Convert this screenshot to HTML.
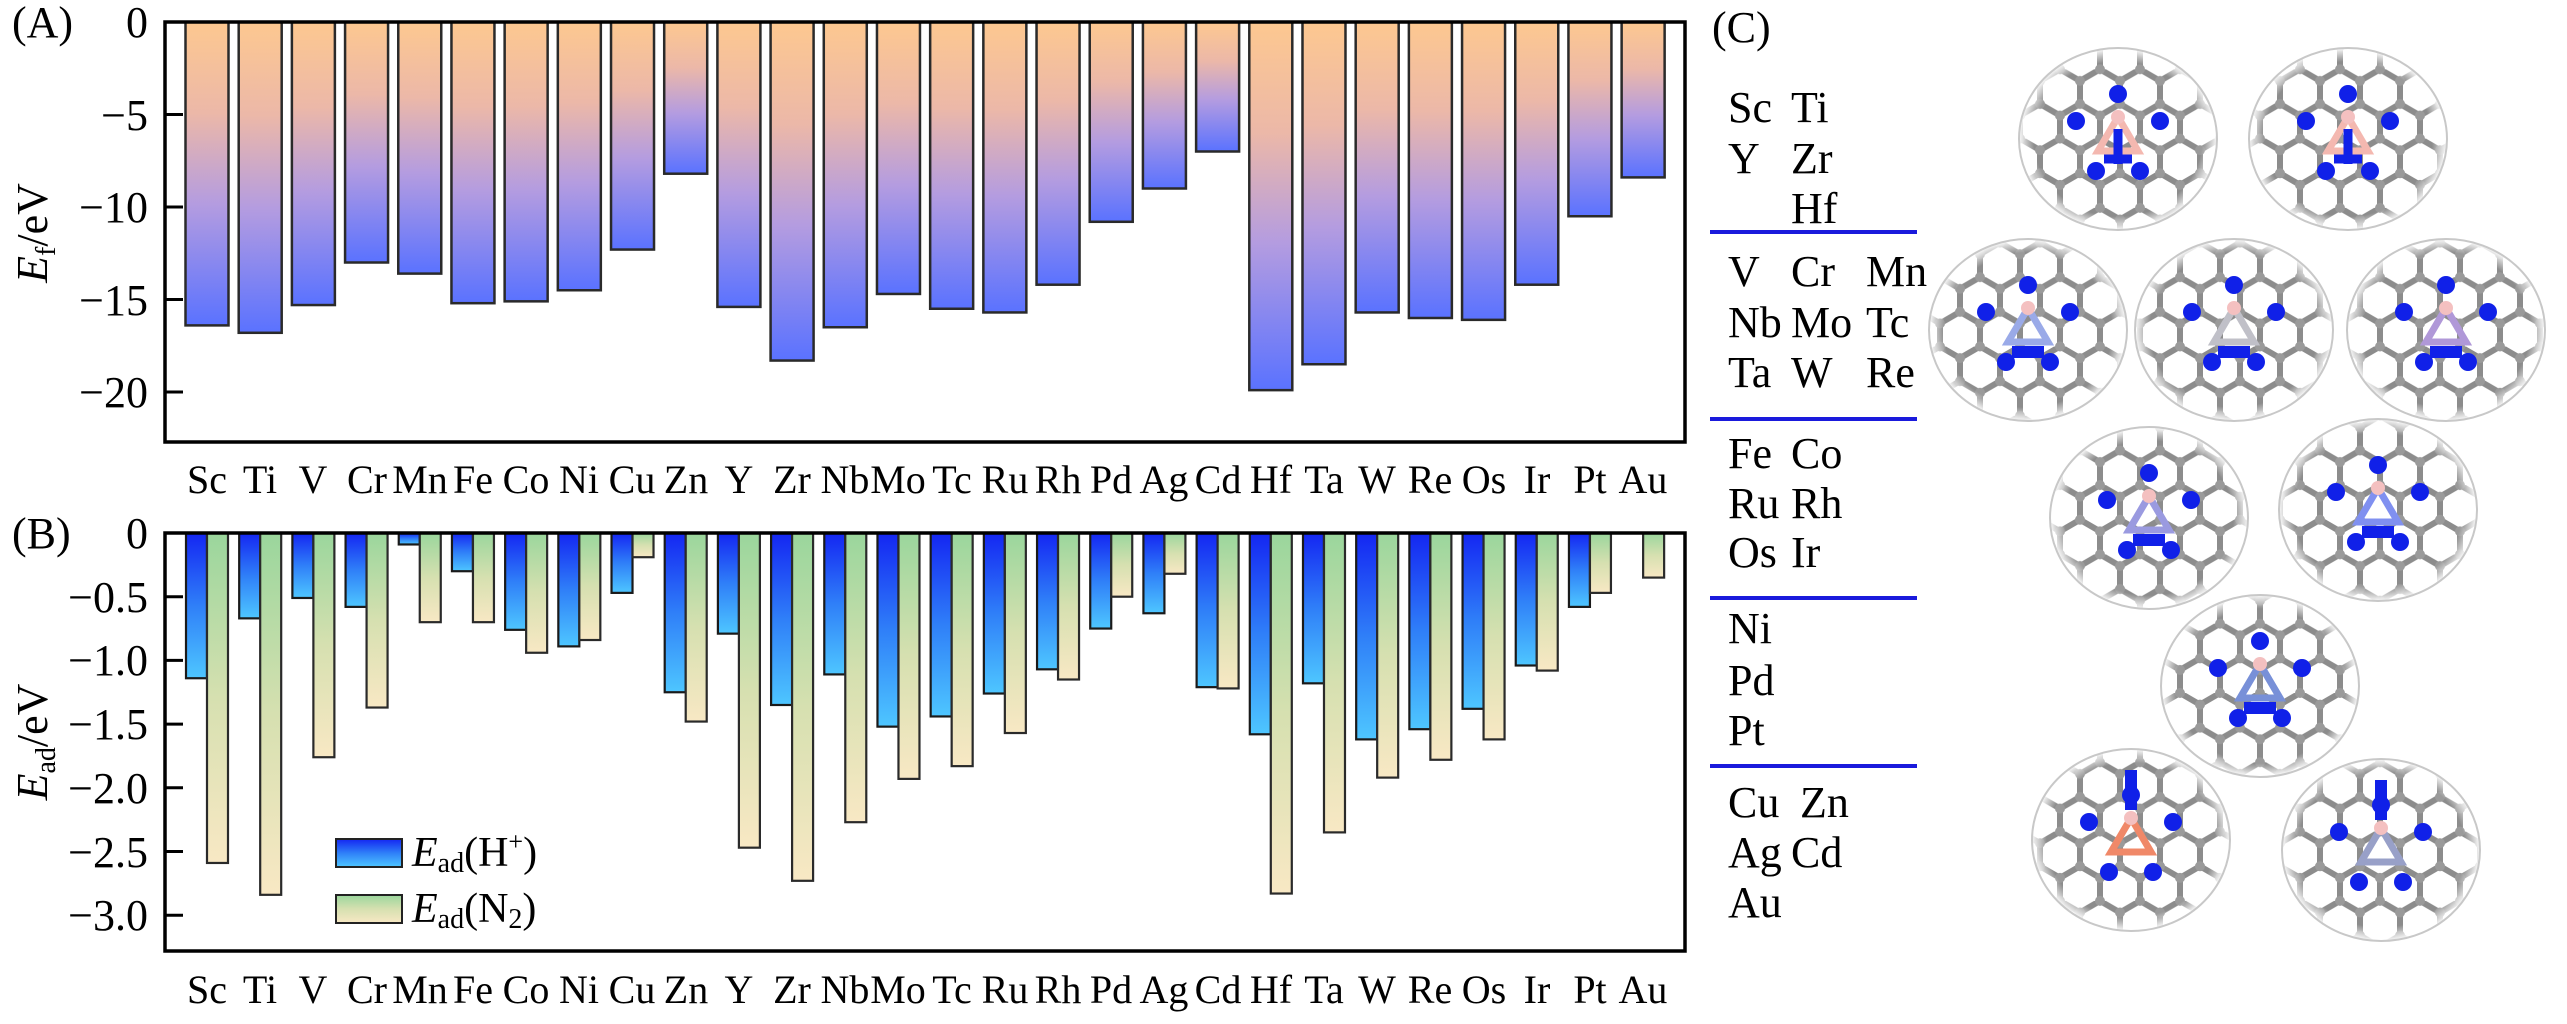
<!DOCTYPE html>
<html><head><meta charset="utf-8"><style>
html,body{margin:0;padding:0;background:#fff}
svg{display:block}
text{font-family:"Liberation Serif",serif;fill:#000}
</style></head><body>
<svg id="s" width="2567" height="1024" viewBox="0 0 2567 1024" xmlns="http://www.w3.org/2000/svg">
<defs>
<linearGradient id="gA" x1="0" y1="0" x2="0" y2="1"><stop offset="0" stop-color="#fdc890"/><stop offset="0.3" stop-color="#ecb8a8"/><stop offset="0.6" stop-color="#b49ce0"/><stop offset="1" stop-color="#5a72ff"/></linearGradient>
<linearGradient id="gH" x1="0" y1="0" x2="0" y2="1"><stop offset="0" stop-color="#1426f2"/><stop offset="0.5" stop-color="#2f7ff8"/><stop offset="1" stop-color="#4ec6ff"/></linearGradient>
<linearGradient id="gN" x1="0" y1="0" x2="0" y2="1"><stop offset="0" stop-color="#9ad69c"/><stop offset="0.5" stop-color="#d6e0b0"/><stop offset="1" stop-color="#f8e8c4"/></linearGradient>
<pattern id="hex" width="40" height="69.3" patternUnits="userSpaceOnUse">
<path d="M20 0L40 11.55M20 0L0 11.55M0 11.55V34.65M40 11.55V34.65M0 34.65L20 46.2M40 34.65L20 46.2M20 46.2V69.3" stroke="#8c8c8c" stroke-width="6" fill="none"/>
<g fill="#9a9a9a"><circle cx="20" cy="0" r="5"/><circle cx="0" cy="11.55" r="5"/><circle cx="40" cy="11.55" r="5"/><circle cx="0" cy="34.65" r="5"/><circle cx="40" cy="34.65" r="5"/><circle cx="20" cy="46.2" r="5"/><circle cx="20" cy="69.3" r="5"/></g>
</pattern>
<radialGradient id="rim" cx="0.5" cy="0.5" r="0.5"><stop offset="0.85" stop-color="#fff" stop-opacity="0"/><stop offset="1" stop-color="#fff" stop-opacity="0.95"/></radialGradient>
</defs>

<g id="barsA"></g>
<rect x="165" y="22" width="1520" height="420" fill="none" stroke="#000" stroke-width="3.5"/>
<g stroke="#000" stroke-width="3">
<line x1="165" y1="114.5" x2="183" y2="114.5"/><line x1="165" y1="207" x2="183" y2="207"/><line x1="165" y1="299.5" x2="183" y2="299.5"/><line x1="165" y1="392" x2="183" y2="392"/>
</g>
<g font-size="44" text-anchor="end">
<text x="148" y="37">0</text><text x="148" y="130">−5</text><text x="148" y="222">−10</text><text x="148" y="315">−15</text><text x="148" y="407">−20</text>
</g>
<text x="12" y="37" font-size="44">(A)</text>
<text transform="translate(47,233) rotate(-90)" font-size="44" text-anchor="middle"><tspan font-style="italic">E</tspan><tspan font-size="28" dy="8">f</tspan><tspan dy="-8">/eV</tspan></text>

<g id="barsB"></g>
<rect x="165" y="533" width="1520" height="418" fill="none" stroke="#000" stroke-width="3.5"/>
<g stroke="#000" stroke-width="3">
<line x1="165" y1="596.7" x2="183" y2="596.7"/><line x1="165" y1="660.4" x2="183" y2="660.4"/><line x1="165" y1="724.1" x2="183" y2="724.1"/><line x1="165" y1="787.8" x2="183" y2="787.8"/><line x1="165" y1="851.5" x2="183" y2="851.5"/><line x1="165" y1="915.2" x2="183" y2="915.2"/>
</g>
<g font-size="44" text-anchor="end">
<text x="148" y="548">0</text><text x="148" y="612">−0.5</text><text x="148" y="675">−1.0</text><text x="148" y="739">−1.5</text><text x="148" y="803">−2.0</text><text x="148" y="867">−2.5</text><text x="148" y="930">−3.0</text>
</g>
<text x="12" y="548" font-size="44">(B)</text>
<text transform="translate(47,742) rotate(-90)" font-size="44" text-anchor="middle"><tspan font-style="italic">E</tspan><tspan font-size="28" dy="8">ad</tspan><tspan dy="-8">/eV</tspan></text>

<rect x="336" y="839" width="66" height="28" fill="url(#gH)" stroke="#222" stroke-width="2"/>
<rect x="336" y="895" width="66" height="28" fill="url(#gN)" stroke="#222" stroke-width="2"/>
<text x="412" y="866" font-size="42"><tspan font-style="italic">E</tspan><tspan font-size="28" dy="6">ad</tspan><tspan dy="-6">(H</tspan><tspan font-size="26" dy="-16">+</tspan><tspan dy="16">)</tspan></text>
<text x="412" y="922" font-size="42"><tspan font-style="italic">E</tspan><tspan font-size="28" dy="6">ad</tspan><tspan dy="-6">(N</tspan><tspan font-size="28" dy="6">2</tspan><tspan dy="-6">)</tspan></text>

<g font-size="40" text-anchor="middle">
<text x="207" y="493">Sc</text><text x="260" y="493">Ti</text><text x="313" y="493">V</text><text x="367" y="493">Cr</text><text x="420" y="493">Mn</text><text x="473" y="493">Fe</text><text x="526" y="493">Co</text><text x="579" y="493">Ni</text><text x="632" y="493">Cu</text><text x="686" y="493">Zn</text><text x="739" y="493">Y</text><text x="792" y="493">Zr</text><text x="845" y="493">Nb</text><text x="898" y="493">Mo</text><text x="952" y="493">Tc</text><text x="1005" y="493">Ru</text><text x="1058" y="493">Rh</text><text x="1111" y="493">Pd</text><text x="1164" y="493">Ag</text><text x="1218" y="493">Cd</text><text x="1271" y="493">Hf</text><text x="1324" y="493">Ta</text><text x="1377" y="493">W</text><text x="1430" y="493">Re</text><text x="1484" y="493">Os</text><text x="1537" y="493">Ir</text><text x="1590" y="493">Pt</text><text x="1643" y="493">Au</text>
</g>
<g font-size="40" text-anchor="middle">
<text x="207" y="1003">Sc</text><text x="260" y="1003">Ti</text><text x="313" y="1003">V</text><text x="367" y="1003">Cr</text><text x="420" y="1003">Mn</text><text x="473" y="1003">Fe</text><text x="526" y="1003">Co</text><text x="579" y="1003">Ni</text><text x="632" y="1003">Cu</text><text x="686" y="1003">Zn</text><text x="739" y="1003">Y</text><text x="792" y="1003">Zr</text><text x="845" y="1003">Nb</text><text x="898" y="1003">Mo</text><text x="952" y="1003">Tc</text><text x="1005" y="1003">Ru</text><text x="1058" y="1003">Rh</text><text x="1111" y="1003">Pd</text><text x="1164" y="1003">Ag</text><text x="1218" y="1003">Cd</text><text x="1271" y="1003">Hf</text><text x="1324" y="1003">Ta</text><text x="1377" y="1003">W</text><text x="1430" y="1003">Re</text><text x="1484" y="1003">Os</text><text x="1537" y="1003">Ir</text><text x="1590" y="1003">Pt</text><text x="1643" y="1003">Au</text>
</g>

<text x="1712" y="42" font-size="44">(C)</text>
<g stroke="#1a1adc" stroke-width="4">
<line x1="1710" y1="232" x2="1917" y2="232"/><line x1="1710" y1="419" x2="1917" y2="419"/><line x1="1710" y1="598" x2="1917" y2="598"/><line x1="1710" y1="766" x2="1917" y2="766"/>
</g>
<g font-size="44">
<text x="1728" y="122">Sc</text><text x="1791" y="122">Ti</text>
<text x="1728" y="173">Y</text><text x="1791" y="173">Zr</text>
<text x="1791" y="223">Hf</text>
<text x="1728" y="286">V</text><text x="1791" y="286">Cr</text><text x="1866" y="286">Mn</text>
<text x="1728" y="337">Nb</text><text x="1791" y="337">Mo</text><text x="1866" y="337">Tc</text>
<text x="1728" y="387">Ta</text><text x="1791" y="387">W</text><text x="1866" y="387">Re</text>
<text x="1728" y="468">Fe</text><text x="1791" y="468">Co</text>
<text x="1728" y="518">Ru</text><text x="1791" y="518">Rh</text>
<text x="1728" y="567">Os</text><text x="1791" y="567">Ir</text>
<text x="1728" y="643">Ni</text>
<text x="1728" y="695">Pd</text>
<text x="1728" y="745">Pt</text>
<text x="1728" y="817">Cu</text><text x="1800" y="817">Zn</text>
<text x="1728" y="867">Ag</text><text x="1791" y="867">Cd</text>
<text x="1728" y="917">Au</text>
</g>
<g id="mols"></g>
</svg>
<script>
var NS="http://www.w3.org/2000/svg";
function el(p,t,a){var e=document.createElementNS(NS,t);for(var k in a)e.setAttribute(k,a[k]);p.appendChild(e);return e;}
var A=[-16.4,-16.8,-15.3,-13.0,-13.6,-15.2,-15.1,-14.5,-12.3,-8.2,-15.4,-18.3,-16.5,-14.7,-15.5,-15.7,-14.2,-10.8,-9.0,-7.0,-19.9,-18.5,-15.7,-16.0,-16.1,-14.2,-10.5,-8.4];
var H=[-1.14,-0.67,-0.51,-0.58,-0.09,-0.30,-0.76,-0.89,-0.47,-1.25,-0.79,-1.35,-1.11,-1.52,-1.44,-1.26,-1.07,-0.75,-0.63,-1.21,-1.58,-1.18,-1.62,-1.54,-1.38,-1.04,-0.58,-0.01];
var N=[-2.59,-2.84,-1.76,-1.37,-0.70,-0.70,-0.94,-0.84,-0.19,-1.48,-2.47,-2.73,-2.27,-1.93,-1.83,-1.57,-1.15,-0.50,-0.32,-1.22,-2.83,-2.35,-1.92,-1.78,-1.62,-1.08,-0.47,-0.35];
var gA=document.getElementById('barsA'),gB=document.getElementById('barsB');
for(var i=0;i<28;i++){var c=207+53.19*i;
 el(gA,'rect',{x:c-21.5,y:22,width:43,height:-A[i]*18.5,fill:'url(#gA)',stroke:'#2a2a2a','stroke-width':2.5});
 if(H[i]<-0.02)el(gB,'rect',{x:c-21,y:533,width:21,height:-H[i]*127.4,fill:'url(#gH)',stroke:'#1a1a1a','stroke-width':2.2});
 el(gB,'rect',{x:c,y:533,width:21,height:-N[i]*127.4,fill:'url(#gN)',stroke:'#2a2a2a','stroke-width':2.2});
}
var M=[[2118,139,'#f4b8b0',0],[2348,139,'#f4b8b0',0],[2028,330,'#9aaae8',1],[2234,330,'#c0c0c8',1],[2446,330,'#b098d8',1],[2149,518,'#9a9ae0',2],[2378,510,'#8090f0',2],[2260,686,'#7890d8',2],[2131,840,'#f08868',3],[2381,850,'#98a0c8',3]];
var gm=document.getElementById('mols');
M.forEach(function(m,k){var cx=m[0],cy=m[1];
 var cp=el(gm,'clipPath',{id:'cp'+k});el(cp,'ellipse',{cx:cx,cy:cy,rx:99,ry:91});
 var g=el(gm,'g',{'clip-path':'url(#cp'+k+')'});
 el(g,'rect',{x:cx-110,y:cy-100,width:220,height:200,fill:'#fff'});
 el(g,'rect',{x:cx-120,y:cy-110,width:240,height:220,fill:'url(#hex)'});
 el(g,'ellipse',{cx:cx,cy:cy,rx:99,ry:91,fill:'url(#rim)'});
 var pts=[[0,-45],[-42,-18],[42,-18],[-22,32],[22,32]];
 pts.forEach(function(p){el(g,'circle',{cx:cx+p[0],cy:cy+p[1],r:9,fill:'#1020e8'});});
 el(g,'path',{d:'M'+cx+' '+(cy-22)+'L'+(cx-20)+' '+(cy+12)+'L'+(cx+20)+' '+(cy+12)+'Z',fill:'none',stroke:m[2],'stroke-width':7});
 el(g,'circle',{cx:cx,cy:cy-22,r:7,fill:'#f4c0c0'});
 if(m[3]==0){el(g,'path',{d:'M'+cx+' '+(cy-10)+'V'+(cy+25)+'M'+(cx-14)+' '+(cy+20)+'H'+(cx+14),stroke:'#1020e8','stroke-width':9});}
 else if(m[3]==3){el(g,'path',{d:'M'+cx+' '+(cy-30)+'V'+(cy-70),stroke:'#1020e8','stroke-width':12});}
 else {el(g,'path',{d:'M'+(cx-16)+' '+(cy+22)+'H'+(cx+16),stroke:'#1020e8','stroke-width':12});}
 el(gm,'ellipse',{cx:cx,cy:cy,rx:99,ry:91,fill:'none',stroke:'#c8c8c8','stroke-width':2});
});
</script>
</body></html>
